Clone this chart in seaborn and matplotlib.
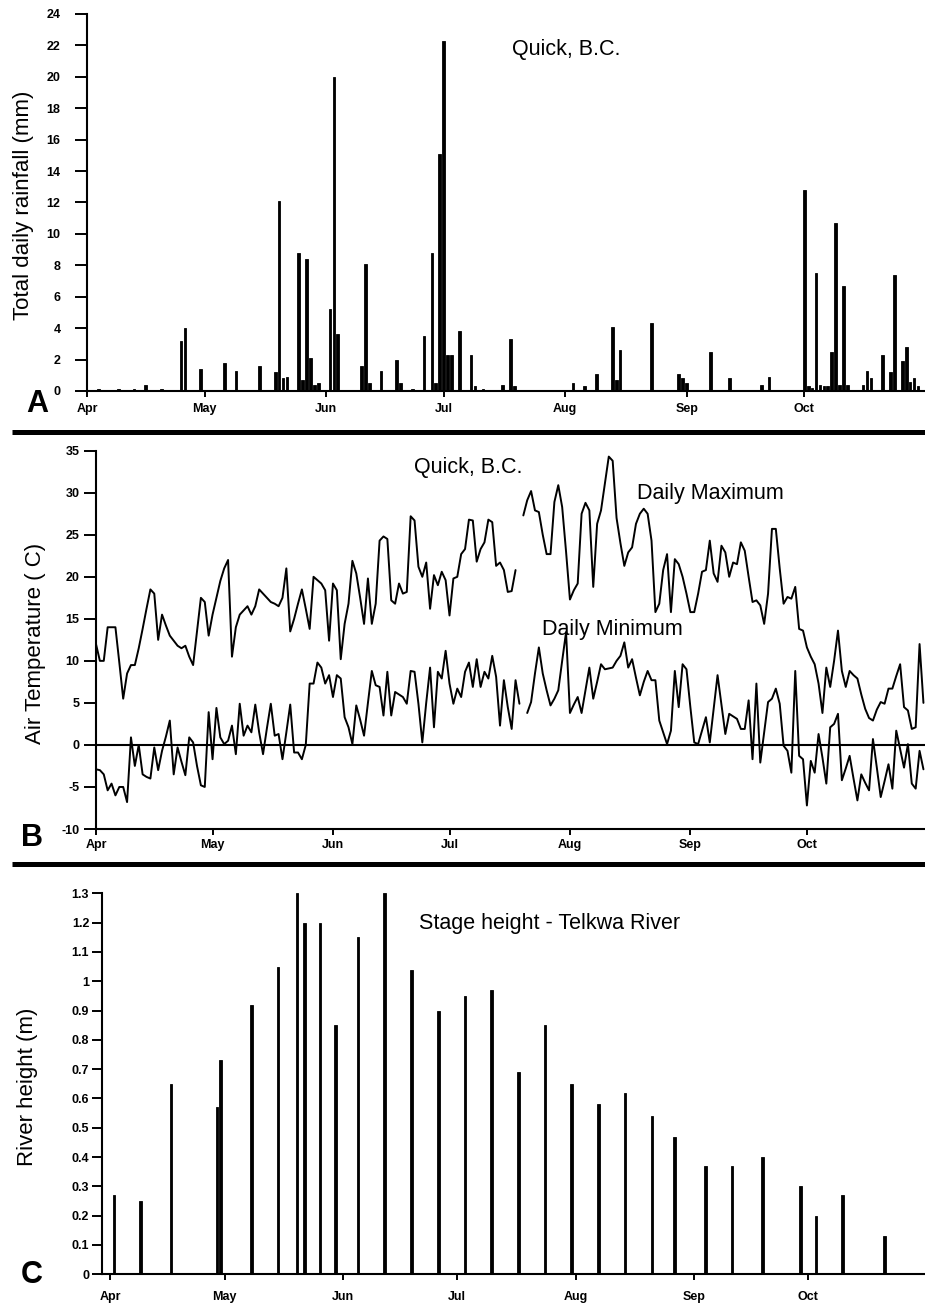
import numpy as np
import pandas as pd
import matplotlib
matplotlib.use("Agg")
import matplotlib.pyplot as plt
import seaborn as sns
from matplotlib.lines import Line2D

W, H = 925, 1307
sns.set_style("ticks")
plt.rcParams['font.family'] = ['Liberation Sans', 'DejaVu Sans']
plt.rcParams['text.color'] = 'black'
plt.rcParams['axes.labelcolor'] = 'black'
plt.rcParams['xtick.color'] = 'black'
plt.rcParams['ytick.color'] = 'black'
plt.rcParams['axes.edgecolor'] = 'black'

# ---------------- data ----------------
month_labels = ["Apr", "May", "Jun", "Jul", "Aug", "Sep", "Oct"]
month_days = [0, 30, 61, 91, 122, 153, 183]   # days since Apr 1

rain_day = [3, 8, 12, 15, 19, 24, 25, 29, 35, 38, 44, 48, 49, 50, 51, 54, 55, 56, 57, 58, 59,
            62, 63, 64, 70, 71, 72, 75, 79, 80, 83, 86, 88, 89, 90, 91, 92, 93, 95, 98, 99,
            101, 106, 108, 109, 124, 127, 130, 134, 135, 136, 144, 151, 152, 153, 159, 164,
            172, 174, 183, 184, 185, 186, 187, 188, 189, 190, 191, 192, 193, 194, 198, 199,
            200, 203, 205, 206, 208, 209, 210, 211, 212]
rain_mm = [0.1, 0.1, 0.1, 0.4, 0.1, 3.2, 4.0, 1.4, 1.8, 1.3, 1.6, 1.2, 12.1, 0.8, 0.9, 8.8, 0.7,
           8.4, 2.1, 0.4, 0.5, 5.2, 20.0, 3.6, 1.6, 8.1, 0.5, 1.3, 2.0, 0.5, 0.1, 3.5, 8.8, 0.5,
           15.1, 22.3, 2.3, 2.3, 3.8, 2.3, 0.3, 0.1, 0.4, 3.3, 0.3, 0.5, 0.3, 1.1, 4.1, 0.7, 2.6,
           4.3, 1.1, 0.8, 0.5, 2.5, 0.8, 0.4, 0.9, 12.8, 0.3, 0.2, 7.5, 0.4, 0.3, 0.3, 2.5, 10.7,
           0.4, 6.7, 0.4, 0.4, 1.3, 0.8, 2.3, 1.2, 7.4, 1.9, 2.8, 0.6, 0.8, 0.3]
rain_ticks = list(range(0, 25, 2))

nan = float("nan")
tmax = [12, 10, 10, 14, 14, 14, 9.8, 5.5, 8.5, 9.5,
        9.5, 11.5, 13.8, 16.2, 18.5, 18, 12.5, 15.5, 14.2, 13,
        12.4, 11.8, 11.5, 11.8, 10.5, 9.5, 13.5, 17.5, 17, 13,
        15.5, 17.5, 19.5, 21, 22, 10.5, 14, 15.5, 16, 16.5,
        15.5, 16.5, 18.5, 18, 17.5, 17, 16.8, 16.5, 17.5, 21,
        13.5, 15, 16.8, 18.5, 16.2, 13.8, 20, 19.6, 19.2, 18.4,
        12.4, 19.2, 18.4, 10.2, 14.4, 16.8, 21.9, 20.4, 17.5, 14.4,
        19.8, 14.4, 16.8, 24.3, 24.8, 24.5, 17.2, 16.8, 19.2, 18,
        18.2, 27.2, 26.7, 21.2, 20, 21.7, 16.2, 20.2, 19, 20.6,
        19.6, 15.4, 19.8, 20, 22.7, 23.3, 26.8, 26.7, 21.8, 23.3,
        24.1, 26.8, 26.5, 21.3, 21.7, 20.8, 18.2, 18.3, 20.8, nan,
        27.3, 29.1, 30.2, 27.9, 27.7, 25, 22.7, 22.7, 28.9, 30.9,
        28.3, 23, 17.3, 18.4, 19.2, 27.5, 28.8, 27.9, 18.8, 26.3,
        27.9, 31.1, 34.3, 33.8, 27, 24, 21.3, 22.9, 23.5, 26.3,
        27.5, 28.1, 27.5, 24.3, 15.8, 16.8, 20.8, 22.7, 15.8, 22.1,
        21.5, 20, 18, 15.8, 15.8, 18, 20.6, 20.8, 24.3, 20.4,
        19.4, 23.7, 22.9, 20, 21.7, 21.5, 24.1, 23.1, 20, 17,
        17.2, 16.6, 14.4, 18, 25.7, 25.7, 21, 16.8, 17.6, 17.4,
        18.8, 13.8, 13.6, 11.6, 10.5, 9.6, 7.3, 3.8, 9.2, 6.9,
        10, 13.6, 8.8, 6.9, 8.8, 8.3, 7.9, 6, 4.3, 3.2,
        2.9, 4.2, 5.1, 4.9, 6.7, 6.7, 8.2, 9.6, 4.5, 4.1,
        1.9, 2.1, 12, 5]
tmin = [-2.9, -3, -3.5, -5.4, -4.6, -6, -5, -5, -6.8, 0.9,
        -2.5, 0, -3.5, -3.8, -4, -0.3, -3, -0.7, 1, 2.9,
        -3.5, -0.3, -2, -3.6, 0.9, 0.3, -2.5, -4.8, -5, 3.9,
        -1.7, 4.4, 0.9, 0.1, 0.5, 2.3, -1.1, 4.9, 1.1, 2.3,
        1.5, 4.8, 1.5, -1.1, 2, 4.9, 1.1, 1.3, -1.7, 1.5,
        4.8, -0.9, -0.9, -1.7, 0, 7.3, 7.3, 9.8, 9.2, 7.3,
        8.3, 5.7, 8.3, 7.9, 3.3, 2.1, 0.1, 4.7, 3, 1.1,
        5, 8.8, 7.1, 6.9, 3.5, 8.7, 3.5, 6.3, 6, 5.7,
        4.9, 8.8, 8.7, 4.9, 0.3, 5, 9.2, 2.1, 8.7, 7.9,
        11.2, 7.3, 4.9, 6.7, 5.7, 8.7, 9.8, 6.9, 10.2, 6.9,
        8.7, 7.9, 10.6, 8.1, 2.3, 7.7, 4.5, 1.9, 7.7, 4.9,
        nan, 3.8, 5.1, 8.5, 11.6, 8.5, 6.5, 4.7, 5.5, 6.5,
        10, 13.4, 3.8, 4.8, 5.7, 3.8, 6.5, 9.2, 5.5, 7.5,
        9.6, 9, 9.1, 9.2, 10, 10.6, 12.2, 9.2, 10.2, 8,
        5.9, 7.5, 8.8, 7.7, 7.7, 2.9, 1.5, 0.1, 1.7, 8.8,
        4.5, 9.6, 9, 4.5, 0.3, 0.1, 1.7, 3.3, 0.3, 4.3,
        8.3, 4.8, 1.3, 3.7, 3.4, 3.1, 1.9, 1.9, 5.3, -1.7,
        7.3, -2.1, 1.5, 5.1, 5.5, 6.7, 4.9, -0.1, -0.7, -3.3,
        8.8, -1.3, -1.7, -7.2, -1.9, -3.3, 1.3, -1.5, -4.6, 2.1,
        2.5, 3.7, -4.2, -2.8, -1.3, -4, -6.6, -3.5, -4.5, -5.4,
        0.7, -2.7, -6.2, -4.3, -2.3, -5.2, 1.7, -0.5, -2.7, 0.1,
        -4.6, -5.2, -0.7, -2.9]
temp_ticks = list(range(-10, 36, 5))
temp_labels = [str(v) for v in temp_ticks]

river_day = [1, 8, 16, 28, 29, 37, 44, 49, 51, 55, 59, 65, 72, 79, 86, 93, 100, 107, 114,
             121, 128, 135, 142, 148, 156, 163, 171, 181, 185, 192, 203]
river_m = [0.27, 0.25, 0.65, 0.57, 0.73, 0.92, 1.05, 1.30, 1.20, 1.20, 0.85, 1.15, 1.30, 1.04,
           0.90, 0.95, 0.97, 0.69, 0.85, 0.65, 0.58, 0.62, 0.54, 0.47, 0.37, 0.37, 0.40, 0.30,
           0.20, 0.27, 0.13]
river_ticks = [0, 0.1, 0.2, 0.3, 0.4, 0.5, 0.6, 0.7, 0.8, 0.9, 1.0, 1.1, 1.2, 1.3]
river_labels = ["0", "0.1", "0.2", "0.3", "0.4", "0.5", "0.6", "0.7", "0.8", "0.9",
                "1", "1.1", "1.2", "1.3"]

# ---------------- layout helpers ----------------
def fx(x):
    return x / W

def fy(y):
    return 1 - y / H

def rect(l, t, r, b):
    return [l / W, 1 - b / H, (r - l) / W, (b - t) / H]

fig = plt.figure(figsize=(W / 100, H / 100), dpi=100)

TICKFS = 9
SPINE_LW = 1.5

def style_axis(ax, ylen, ypad, xpad):
    sns.despine(ax=ax)
    for s in ("left", "bottom"):
        ax.spines[s].set_linewidth(SPINE_LW)
        ax.spines[s].set_color("black")
    ax.tick_params(axis="y", direction="out", length=ylen, width=1.4, pad=ypad, colors="black")
    ax.tick_params(axis="x", direction="out", length=4, width=1.4, pad=xpad, colors="black")
    ax.set_xticks(month_days)
    ax.set_xticklabels(month_labels, fontsize=TICKFS, fontweight="bold")
    ax.set_xlabel("")
    ax.grid(False)

# ---------------- Panel A: rainfall ----------------
axA = fig.add_axes(rect(87, 14, 925, 391))
sns.barplot(x=rain_day, y=rain_mm, native_scale=True, width=0.7, color="black",
            edgecolor="black", linewidth=0.6, errorbar=None, ax=axA)
axA.set_xlim(0, 213.8)
axA.set_ylim(0, 24)
axA.set_yticks(rain_ticks)
axA.set_yticklabels([str(v) for v in rain_ticks], fontsize=TICKFS, fontweight="bold")
style_axis(axA, ylen=9, ypad=10, xpad=5)
labA = axA.set_ylabel("Total daily rainfall (mm)", fontsize=16, color="black")
axA.yaxis.set_label_coords(fx(24), fy(205), transform=fig.transFigure)
labA.set_verticalalignment("center")
fig.text(fx(566), fy(50), "Quick, B.C.", fontsize=15.5, ha="center", va="center", color="black")
fig.text(fx(37), fy(404), "A", fontsize=22, fontweight="bold", ha="center", va="center", color="black")

# ---------------- Panel B: temperature ----------------
axB = fig.add_axes(rect(96, 450.7, 925, 829))
days = np.arange(len(tmax))
for series in (tmax, tmin):
    s = pd.Series(series, dtype=float)
    seg = s.isna().cumsum()
    df = pd.DataFrame({"day": days, "temp": s, "seg": seg}).dropna()
    sns.lineplot(data=df, x="day", y="temp", units="seg", estimator=None,
                 color="black", linewidth=1.4, ax=axB)
axB.axhline(0, color="black", linewidth=1.5)
axB.set_xlim(0, 213.4)
axB.set_ylim(-10, 35)
axB.set_yticks(temp_ticks)
axB.set_yticklabels(temp_labels, fontsize=TICKFS, fontweight="bold")
style_axis(axB, ylen=9, ypad=3, xpad=3)
labB = axB.set_ylabel("Air Temperature ( C)", fontsize=16, color="black")
axB.yaxis.set_label_coords(fx(36), fy(643), transform=fig.transFigure)
labB.set_verticalalignment("center")
fig.text(fx(468), fy(467), "Quick, B.C.", fontsize=15.5, ha="center", va="center", color="black")
fig.text(fx(710), fy(493), "Daily Maximum", fontsize=15.5, ha="center", va="center", color="black")
fig.text(fx(612), fy(630), "Daily Minimum", fontsize=15.5, ha="center", va="center", color="black")
fig.text(fx(32), fy(838), "B", fontsize=22, fontweight="bold", ha="center", va="center", color="black")

# ---------------- Panel C: river height ----------------
axC = fig.add_axes(rect(101.7, 893.3, 925, 1274.3))
sns.barplot(x=river_day, y=river_m, native_scale=True, width=0.7, color="black",
            edgecolor="black", linewidth=0.6, errorbar=None, ax=axC)
axC.set_xlim(-2.2, 213.6)
axC.set_ylim(0, 1.3)
axC.set_yticks(river_ticks)
axC.set_yticklabels(river_labels, fontsize=TICKFS, fontweight="bold")
style_axis(axC, ylen=7, ypad=2, xpad=8)
labC = axC.set_ylabel("River height (m)", fontsize=16, color="black")
axC.yaxis.set_label_coords(fx(28), fy(1087), transform=fig.transFigure)
labC.set_verticalalignment("center")
fig.text(fx(550), fy(923), "Stage height - Telkwa River", fontsize=15.5, ha="center", va="center", color="black")
fig.text(fx(32), fy(1275), "C", fontsize=22, fontweight="bold", ha="center", va="center", color="black")

# ---------------- separators ----------------
for ysep in (432, 864):
    fig.add_artist(Line2D([fx(12), 1.0], [fy(ysep), fy(ysep)], transform=fig.transFigure,
                          color="black", linewidth=3.6, solid_capstyle="butt"))

fig.savefig("out.png", dpi=100)
